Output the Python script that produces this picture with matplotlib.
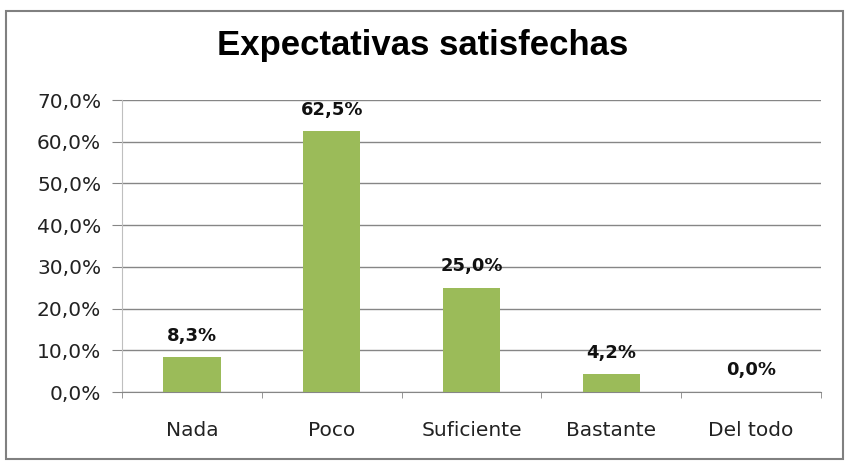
import matplotlib
matplotlib.use("Agg")
import matplotlib.pyplot as plt
from matplotlib.patches import Rectangle
from matplotlib.ticker import FixedLocator, FuncFormatter
import numpy as np

categories = ["Nada", "Poco", "Suficiente", "Bastante", "Del todo"]
values = [8.3, 62.5, 25.0, 4.2, 0.0]
labels = ["8,3%", "62,5%", "25,0%", "4,2%", "0,0%"]
yticks = [0, 10, 20, 30, 40, 50, 60, 70]

fig = plt.figure(figsize=(8.46, 4.62), dpi=100)
W, H = 846, 462
fig.patches.append(Rectangle((6 / W, 1 - 459 / H), 837 / W, 448 / H,
                             transform=fig.transFigure, fill=False,
                             edgecolor="#808080", linewidth=1.5))

ax = fig.add_axes([122 / W, 1 - 392 / H, 699 / W, 292 / H])
x = np.arange(len(categories))
ax.bar(x, values, width=0.41, color="#9BBB59", zorder=3)
ax.set_xlim(-0.5, len(categories) - 0.5)
ax.set_ylim(0, 70)

ax.yaxis.set_major_locator(FixedLocator(yticks))
ax.yaxis.set_major_formatter(FuncFormatter(lambda v, p: f"{v:.1f}".replace(".", ",") + "%"))
ax.grid(axis="y", color="#868686", linewidth=1, zorder=0)
ax.tick_params(axis="y", length=7, color="#868686", labelsize=14.5, pad=8, labelcolor="#222222")

ax.set_xticks(x)
ax.set_xticklabels(categories)
ax.set_xticks(np.arange(-0.5, len(categories)), minor=True)
ax.tick_params(axis="x", which="major", length=0, labelsize=14.5, pad=21, labelcolor="#222222")
ax.tick_params(axis="x", which="minor", length=4, color="#868686")

for s in ["top", "right"]:
    ax.spines[s].set_visible(False)
ax.spines["left"].set_color("#BFBFBF")
ax.spines["bottom"].set_color("#868686")

for xi, v, lab in zip(x, values, labels):
    ax.annotate(lab, (xi, v), xytext=(0, 9), textcoords="offset points",
                ha="center", va="bottom", fontsize=13, fontweight="bold", color="#111111")

fig.text(0.5, 1 - 46 / H, "Expectativas satisfechas", ha="center", va="center",
         fontsize=25, fontweight="bold", family=["Liberation Sans Narrow", "Liberation Sans", "DejaVu Sans"])

fig.savefig("out.png", dpi=100)
